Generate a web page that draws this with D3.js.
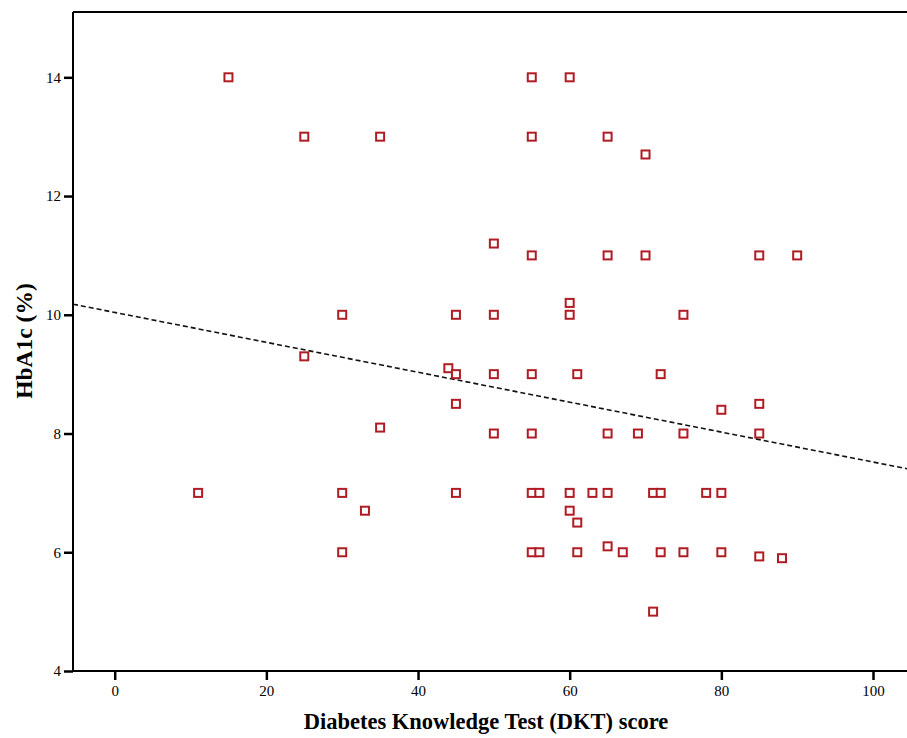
<!DOCTYPE html>
<html>
<head>
<meta charset="utf-8">
<script src="https://cdn.jsdelivr.net/npm/d3@7"></script>
<style>
  html, body { margin: 0; padding: 0; background: #fff; }
  svg { display: block; }
</style>
</head>
<body>
<svg id="chart" width="907" height="738"></svg>
<script>
// ---- data ----
const dktScore = [
  15, 25, 35, 55, 60, 55, 65, 70,
  50, 55, 65, 70, 85, 90,
  60, 30, 45, 50, 60, 75,
  25, 44, 45, 50, 55, 61, 72,
  45, 35, 80, 85,
  50, 55, 65, 69, 75, 85,
  11, 30, 45, 55, 56, 60, 63, 65, 71, 72, 78, 80,
  33, 60, 61,
  30, 55, 56, 61, 65, 67, 72, 75, 80, 85, 88,
  71
];
const hba1c = [
  14, 13, 13, 14, 14, 13, 13, 12.7,
  11.2, 11, 11, 11, 11, 11,
  10.2, 10, 10, 10, 10, 10,
  9.3, 9.1, 9, 9, 9, 9, 9,
  8.5, 8.1, 8.4, 8.5,
  8, 8, 8, 8, 8, 8,
  7, 7, 7, 7, 7, 7, 7, 7, 7, 7, 7, 7,
  6.7, 6.7, 6.5,
  6, 6, 6, 6, 6.1, 6, 6, 6, 6, 5.93, 5.9,
  5
];
const xTicks = [0, 20, 40, 60, 80, 100];
const yTicks = [4, 6, 8, 10, 12, 14];
const fitIntercept = [10.04];
const fitSlope = [-0.0252];
const xDomain = [-5.5, 105];
const yDomain = [4, 15.1];

(function () {
// ---- layout ----
const svg = d3.select("#chart");
const mLeft = 73, mTop = 12, mBottom = 671;
const pxPerUnit = 7.583;
const mRight = mLeft + (xDomain[1] - xDomain[0]) * pxPerUnit;

const x = d3.scaleLinear().domain(xDomain).range([mLeft, mRight]);
const y = d3.scaleLinear().domain(yDomain).range([mBottom, mTop]);

const serif = "'Liberation Serif', 'Times New Roman', serif";

svg.append("defs").append("clipPath").attr("id", "plotclip")
  .append("rect").attr("x", mLeft).attr("y", mTop).attr("width", mRight - mLeft).attr("height", mBottom - mTop);

// frame top border
svg.append("line")
  .attr("x1", mLeft).attr("x2", mRight)
  .attr("y1", mTop).attr("y2", mTop)
  .attr("stroke", "#000").attr("stroke-width", 2);

// regression line
svg.append("line")
  .attr("clip-path", "url(#plotclip)")
  .attr("x1", x(xDomain[0])).attr("y1", y(fitIntercept[0] + fitSlope[0] * xDomain[0]))
  .attr("x2", x(xDomain[1])).attr("y2", y(fitIntercept[0] + fitSlope[0] * xDomain[1]))
  .attr("stroke", "#111").attr("stroke-width", 1.6)
  .attr("stroke-dasharray", "5,3");

// points
const pts = dktScore.map((d, i) => ({ x: d, y: hba1c[i] }));
const s = 8;
svg.append("g").selectAll("rect").data(pts).enter().append("rect")
  .attr("x", d => x(d.x) - s / 2)
  .attr("y", d => y(d.y) - s / 2)
  .attr("width", s).attr("height", s)
  .attr("fill", "#fff")
  .attr("stroke", "#b01c24")
  .attr("stroke-width", 2);

// axes
const xAxis = d3.axisBottom(x).tickValues(xTicks).tickSize(9).tickPadding(5).tickFormat(d3.format("d"));
const yAxis = d3.axisLeft(y).tickValues(yTicks).tickSize(9).tickPadding(3).tickFormat(d3.format("d"));

const gx = svg.append("g").attr("transform", `translate(0,${mBottom})`).call(xAxis);
const gy = svg.append("g").attr("transform", `translate(${mLeft},0)`).call(yAxis);

[gx, gy].forEach(g => {
  g.select(".domain").attr("stroke", "#000").attr("stroke-width", 2);
  g.selectAll(".tick line").attr("stroke", "#000").attr("stroke-width", 2.5);
  g.selectAll(".tick text").attr("fill", "#000").style("font-family", serif).style("font-size", "15px");
});
gx.select(".domain").attr("d", `M${mLeft},0H${mRight}`);
gy.select(".domain").attr("d", `M0,${mTop}V${mBottom}`);

// axis titles
svg.append("text")
  .attr("x", 486).attr("y", 729)
  .attr("text-anchor", "middle")
  .style("font-family", serif).style("font-weight", "bold").style("font-size", "22.5px")
  .text("Diabetes Knowledge Test (DKT) score");

svg.append("text")
  .attr("transform", "translate(32,341) rotate(-90)")
  .attr("text-anchor", "middle")
  .style("font-family", serif).style("font-weight", "bold").style("font-size", "23.5px")
  .text("HbA1c (%)");
})();
</script>
</body>
</html>
